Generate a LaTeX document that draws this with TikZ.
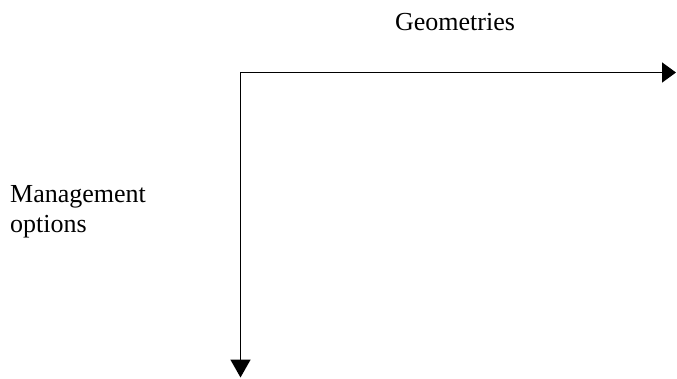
\documentclass[tikz,border=0pt]{standalone}
\usepackage{fontspec}
\setmainfont{Liberation Serif}
\usetikzlibrary{arrows.meta}
\begin{document}
\begin{tikzpicture}[x=1pt,y=-1pt,
  axis/.style={line width=1.7pt, line join=miter},
  lbl/.style={inner sep=0pt, font=\fontsize{26}{30}\selectfont}]
\useasboundingbox (0,0) rectangle (677,378);
\coordinate (c) at (240.5,72.5);
\coordinate (h) at (676,72.5);
\coordinate (v) at (240.5,377.5);
\draw[axis, {Triangle[length=18pt,width=20pt]}-{Triangle[length=14pt,width=20pt]}] (v) -- (c) -- (h);
\node[lbl, anchor=base] (geo) at (455,30) {Geometries};
\node[lbl, anchor=north west, align=left] (mgmt) at (10,185) {Management\\options};
\end{tikzpicture}
\end{document}
